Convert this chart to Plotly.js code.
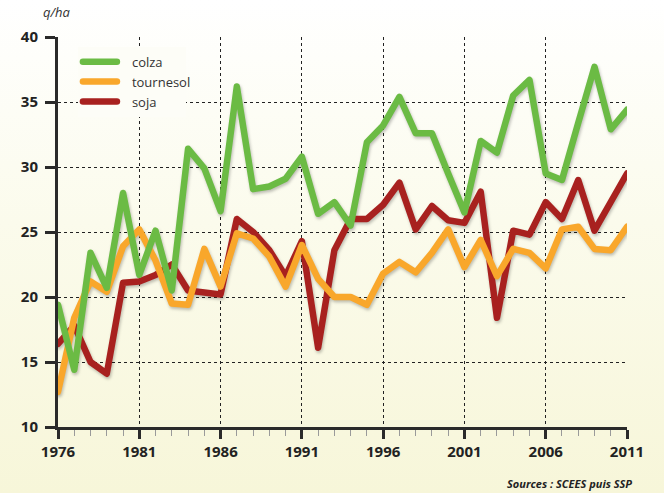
<!DOCTYPE html>
<html>
<head>
<meta charset="utf-8">
<script src="https://cdn.plot.ly/plotly-3.0.1.min.js"></script>
<style>
  html, body { margin: 0; padding: 0; }
  body { width: 664px; height: 493px; background: linear-gradient(to bottom, #ffffff 0%, #fbfbec 45%, #f7f6d9 100%); }
  #chart { width: 664px; height: 493px; }
  .scatterlayer .js-line, .legend .js-line { stroke-linejoin: round; stroke-linecap: round; }
  .scatterlayer { filter: drop-shadow(1.5px 2px 1.5px rgba(0,0,0,0.25)); }
  .legend .legendtext { transform: translateX(10px); }
  .legend .scrollbox, .legend g { clip-path: none !important; }
</style>
</head>
<body>
<div id="chart"></div>
<script>
const years = [1976,1977,1978,1979,1980,1981,1982,1983,1984,1985,1986,1987,1988,1989,1990,1991,1992,1993,1994,1995,1996,1997,1998,1999,2000,2001,2002,2003,2004,2005,2006,2007,2008,2009,2010,2011];
const colza = [19.4,14.4,23.4,20.7,28.0,21.7,25.1,20.5,31.4,29.9,26.6,36.2,28.3,28.5,29.1,30.8,26.4,27.3,25.5,31.9,33.2,35.4,32.6,32.6,29.5,26.5,32.0,31.1,35.5,36.7,29.5,29.0,33.4,37.7,32.9,34.4];
const tournesol = [12.7,18.4,21.2,20.4,23.9,25.2,22.8,19.5,19.4,23.7,20.8,24.9,24.5,23.1,20.8,24.0,21.4,20.0,20.0,19.4,21.8,22.7,21.9,23.4,25.2,22.3,24.4,21.6,23.7,23.4,22.2,25.2,25.4,23.7,23.6,25.4];
const soja = [16.4,17.8,15.0,14.1,21.1,21.2,21.7,22.5,20.5,20.3,20.2,26.0,25.0,23.6,21.6,24.3,16.1,23.6,26.0,26.0,27.1,28.8,25.2,27.0,25.9,25.7,28.1,18.4,25.1,24.8,27.3,26.0,29.0,25.1,27.3,29.5];
const xTickStart = 1976, xTickStep = 5;
const yTicks = [10,15,20,25,30,35,40];
// drawn bottom to top: soja, tournesol, colza (legend reversed)
const seriesNames = ['soja','tournesol','colza'];
const seriesColors = ['#a8211f','#f9a72b','#6bbb44'];
const seriesData = [soja, tournesol, colza];

const traces = seriesData.map((d, i) => ({
  x: years, y: d, name: seriesNames[i], type: 'scatter', mode: 'lines',
  line: {color: seriesColors[i], width: 6.5},
  hoverinfo: 'skip'
}));

const font = 'Open Sans, sans-serif';
const layout = {
  width: 664, height: 493,
  margin: {l: 58, r: 37, t: 37, b: 66},
  paper_bgcolor: 'rgba(0,0,0,0)',
  plot_bgcolor: 'rgba(0,0,0,0)',
  showlegend: true,
  legend: {
    x: 0.035, y: 0.975, xanchor: 'left', yanchor: 'top',
    bgcolor: '#fdfdf7',
    font: {family: font, size: 13, color: '#333'},
    traceorder: 'reversed',
    itemwidth: 34,
    tracegroupgap: 0
  },
  xaxis: {
    range: [1976, 2011],
    tickmode: 'linear', tick0: xTickStart, dtick: xTickStep,
    ticks: 'outside', ticklen: 9, tickwidth: 3, tickcolor: '#2a2a2a',
    showline: true, linewidth: 3, linecolor: '#2a2a2a',
    showgrid: true, gridcolor: '#222', gridwidth: 1, griddash: '3px,3px',
    zeroline: false,
    tickfont: {family: font, size: 15, color: '#222', weight: 'bold'},
    minor: {tick0: xTickStart, dtick: 1, ticks: 'outside', ticklen: 6, tickwidth: 1, tickcolor: '#9a9a9a', showgrid: false},
    fixedrange: true
  },
  yaxis: {
    range: [10, 40],
    tickvals: yTicks, ticktext: yTicks.map(String),
    ticks: 'outside', ticklen: 10, tickwidth: 3, tickcolor: '#2a2a2a',
    showline: true, linewidth: 3, linecolor: '#2a2a2a',
    showgrid: true, gridcolor: '#222', gridwidth: 1, griddash: '3px,3px',
    zeroline: false,
    tickfont: {family: font, size: 15, color: '#222', weight: 'bold'},
    ticklabelstandoff: 4,
    fixedrange: true
  },
  annotations: [
    {text: 'q/ha', xref: 'paper', yref: 'paper', x: -0.03, y: 1.0, yshift: 25, xanchor: 'left', yanchor: 'middle', showarrow: false,
     font: {family: font, size: 13, color: '#333', style: 'italic'}},
    {text: 'Sources : SCEES puis SSP', xref: 'paper', yref: 'paper', x: 1.012, y: 0, yshift: -56, xanchor: 'right', yanchor: 'middle', showarrow: false,
     font: {family: font, size: 11, color: '#222', style: 'italic', weight: 'bold'}}
  ]
};

Plotly.newPlot('chart', traces, layout, {staticPlot: true, displayModeBar: false});
</script>
</body>
</html>
